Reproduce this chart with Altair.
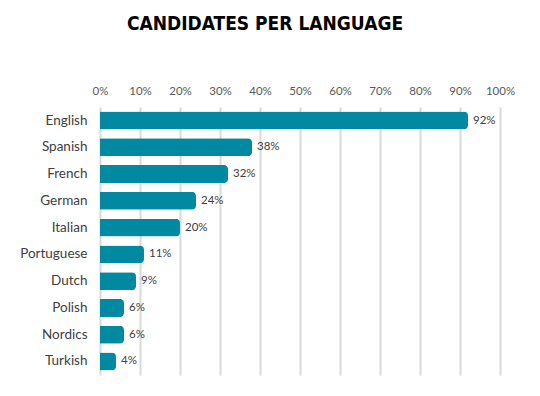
import altair as alt
import pandas as pd

languages = ["English", "Spanish", "French", "German", "Italian",
             "Portuguese", "Dutch", "Polish", "Nordics", "Turkish"]
shares = [0.92, 0.38, 0.32, 0.24, 0.20, 0.11, 0.09, 0.06, 0.06, 0.04]
tick_values = [i / 10 for i in range(11)]

df = pd.DataFrame({"language": languages, "share": shares})

base = alt.Chart(df).encode(
    y=alt.Y("language:N", sort=languages, title=None,
            scale=alt.Scale(paddingInner=0.33, paddingOuter=0.17),
            axis=alt.Axis(domain=False, ticks=False, labelFontSize=13.5,
                          labelColor="#404040", labelPadding=13,
                          labelFont="Lato", grid=False)),
    x=alt.X("share:Q", title=None,
            scale=alt.Scale(domain=[0, 1], nice=False),
            axis=alt.Axis(orient="top", format=".0%", values=tick_values,
                          domain=False, ticks=False, labelFontSize=11.5,
                          labelColor="#595959", labelFont="Lato",
                          labelOverlap=False, labelBound=False,
                          labelFlush=False,
                          labelPadding=11, grid=True, gridColor="#d9d9d9",
                          gridWidth=2)),
)

bars = base.mark_bar(color="#0089A0", cornerRadiusEnd=4)

labels = base.mark_text(align="left", dx=5, fontSize=11.5, color="#404040",
                        font="Lato").encode(
    text=alt.Text("share:Q", format=".0%"),
)

chart = (bars + labels).properties(
    width=400,
    height=268,
    autosize=alt.AutoSizeParams(type="none"),
    padding={"left": 92, "top": 99, "right": 32, "bottom": 13},
    title=alt.TitleParams("CANDIDATES PER LANGUAGE",
                          font="DejaVu Sans Condensed", fontSize=19,
                          fontWeight="bold", color="#000000",
                          anchor="middle", dx=-35, offset=51),
).configure_view(stroke=None)

chart.save("out.html", embed_options={"renderer": "svg", "actions": False})
